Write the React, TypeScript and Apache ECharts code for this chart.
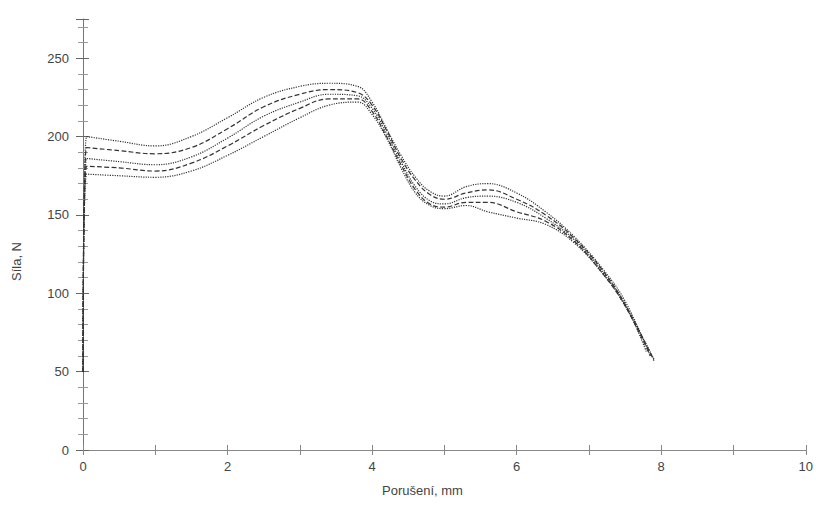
import React, { useEffect, useRef } from "react";
import * as echarts from "echarts";

const xs = [0, 0.05, 0.5, 1, 1.5, 2, 2.5, 3, 3.4, 3.8, 4.0, 4.2, 4.4, 4.6, 4.8, 5.0, 5.3, 5.6, 6.0, 6.4, 6.8, 7.2, 7.5];
const curveA = [50, 200, 197, 194, 200, 212, 225, 232, 234, 232, 222, 205, 188, 174, 165, 162, 168, 170, 164, 152, 136, 115, 95];
const curveB = [50, 193, 191, 189, 193, 205, 219, 227, 230, 228, 220, 204, 186, 172, 163, 160, 164, 166, 160, 150, 135, 114, 93];
const curveC = [50, 186, 184, 182, 187, 199, 213, 222, 227, 226, 218, 202, 184, 168, 159, 157, 161, 162, 158, 148, 134, 113, 92];
const curveD = [50, 181, 180, 178, 183, 194, 207, 218, 224, 224, 216, 200, 182, 166, 157, 155, 158, 158, 152, 146, 133, 112, 92];
const curveE = [50, 176, 175, 174, 178, 188, 200, 212, 220, 222, 214, 199, 180, 164, 156, 154, 156, 152, 148, 144, 132, 112, 93];
const endX = [7.85, 7.9, 7.9, 7.85, 7.8];
const endY = [60, 57, 58, 60, 62];

const xTitle = "Porušení, mm";
const yTitle = "Síla, N";

const curves = [curveA, curveB, curveC, curveD, curveE];
const lineTypes: ("dotted" | "dashed")[] = ["dotted", "dashed", "dotted", "dashed", "dotted"];

export default function App() {
  const ref = useRef<HTMLDivElement>(null);
  useEffect(() => {
    if (!ref.current) return;
    const chart = echarts.init(ref.current, null, { renderer: "svg" });
    const labelStyle = { color: "#444", fontSize: 13, fontFamily: "Liberation Sans, Arial, sans-serif" };
    chart.setOption({
      animation: false,
      backgroundColor: "#fff",
      grid: { left: 83, right: 4, top: 19, bottom: 58, containLabel: false },
      xAxis: [
        {
          type: "value", min: 0, max: 10, interval: 2,
          axisLine: { show: true, lineStyle: { color: "#888", width: 1 } },
          axisTick: { show: true, length: 5, lineStyle: { color: "#888" } },
          minorTick: { show: true, splitNumber: 2, length: 5, lineStyle: { color: "#888" } },
          splitLine: { show: false },
          axisLabel: { ...labelStyle, margin: 10 },
        },
        {
          type: "value", min: 0, max: 10, interval: 2, position: "bottom",
          axisLine: { show: false },
          axisTick: { show: true, inside: true, length: 5, lineStyle: { color: "#888" } },
          minorTick: { show: true, splitNumber: 2, length: 5, lineStyle: { color: "#888" } },
          splitLine: { show: false },
          axisLabel: { show: false },
        },
      ],
      yAxis: [
        {
          type: "value", min: 0, max: 275, interval: 50,
          axisLine: { show: true, lineStyle: { color: "#777", width: 1 } },
          axisTick: { show: true, length: 7, lineStyle: { color: "#666" } },
          minorTick: { show: true, splitNumber: 5, length: 5, lineStyle: { color: "#999" } },
          splitLine: { show: false },
          axisLabel: { ...labelStyle, margin: 14, showMaxLabel: false },
        },
        {
          type: "value", min: 0, max: 275, interval: 50, position: "left",
          axisLine: { show: false },
          axisTick: { show: true, inside: true, length: 6, lineStyle: { color: "#666" } },
          minorTick: { show: true, splitNumber: 5, length: 5, lineStyle: { color: "#999" } },
          splitLine: { show: false },
          axisLabel: { show: false },
        },
      ],
      graphic: [
        { type: "text", left: 382, top: 484, style: { text: xTitle, fill: "#444", font: "13px 'Liberation Sans', Arial, sans-serif" } },
        { type: "text", x: 10, y: 281, rotation: Math.PI / 2, style: { text: yTitle, fill: "#444", font: "13px 'Liberation Sans', Arial, sans-serif" } },
      ],
      series: curves.map((c, i) => ({
        type: "line",
        xAxisIndex: 0,
        yAxisIndex: 0,
        smooth: 0.4,
        symbol: "none",
        data: xs.map((x, j) => [x, c[j]]).concat([[endX[i], endY[i]]]),
        lineStyle: { color: "#333", width: 1.2, type: lineTypes[i] },
      })),
    });
    return () => chart.dispose();
  }, []);
  return <div ref={ref} style={{ position: "absolute", left: 0, top: 0, width: 816, height: 508 }} />;
}
